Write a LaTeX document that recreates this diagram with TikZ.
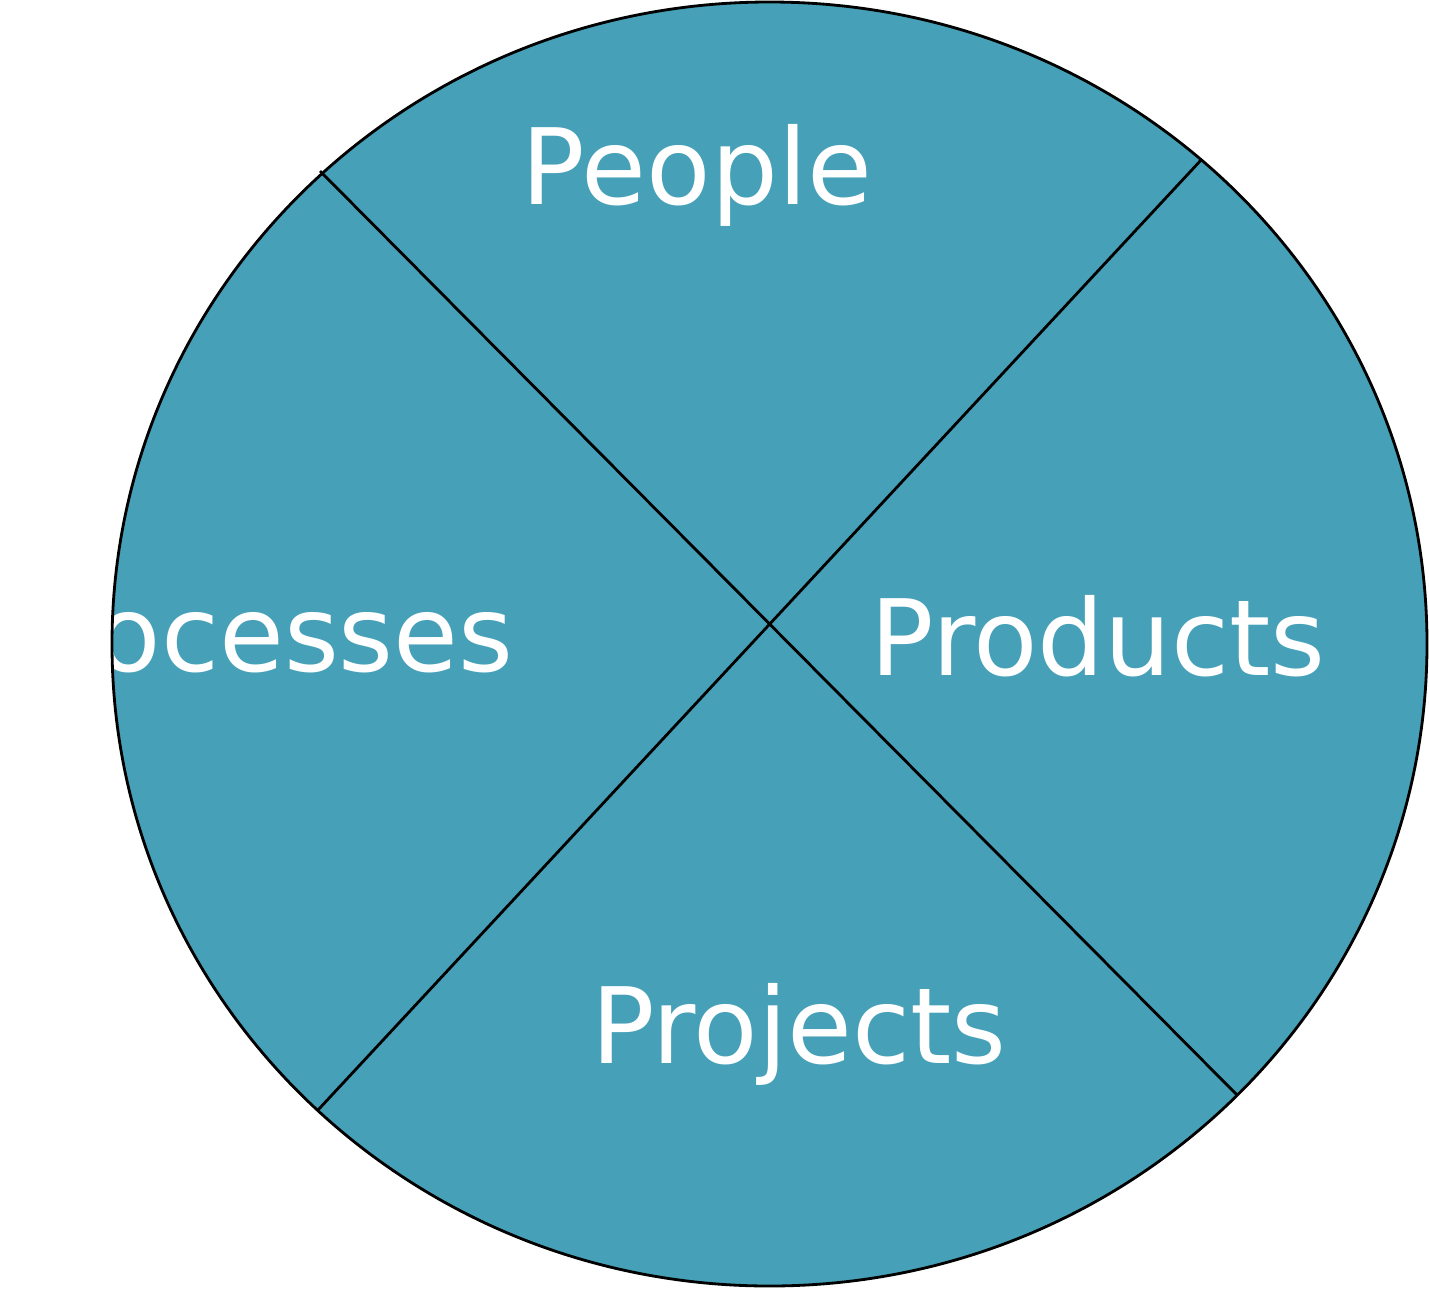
\documentclass[tikz,border=0pt]{standalone}
\usepackage{fontspec}
\setmainfont{DejaVu Sans}
\definecolor{wheelteal}{HTML}{46A1B8}

\begin{document}
\begin{tikzpicture}[x=0.02cm, y=-0.02cm, line width=1.6pt,
    quarter/.style={text=white, font=\fontsize{60}{72}\selectfont, inner sep=0pt}]
  \useasboundingbox (0,0) rectangle (1429,1288);
  % wheel
  \fill[wheelteal] (769.5,644) ellipse [x radius=657.5, y radius=642];
  % labels, cut off at the rim
  \begin{scope}
    \clip (769.5,644) ellipse [x radius=657.5, y radius=642];
    \node[quarter, anchor=base] (people) at (697,204) {People};
    \node[quarter, anchor=base east] (processes) at (515,671) {Processes};
  \end{scope}
  \node[quarter, anchor=base] (products) at (1098,675) {Products};
  \node[quarter, anchor=base] (projects) at (799,1063) {Projects};
  % dividing lines
  \coordinate (nw) at (320,171);
  \coordinate (se) at (1237,1095);
  \coordinate (ne) at (1202,159);
  \coordinate (sw) at (318,1110);
  \draw (nw) -- (se);
  \draw (ne) -- (sw);
  % rim
  \draw (769.5,644) ellipse [x radius=657.5, y radius=642];
\end{tikzpicture}
\end{document}
